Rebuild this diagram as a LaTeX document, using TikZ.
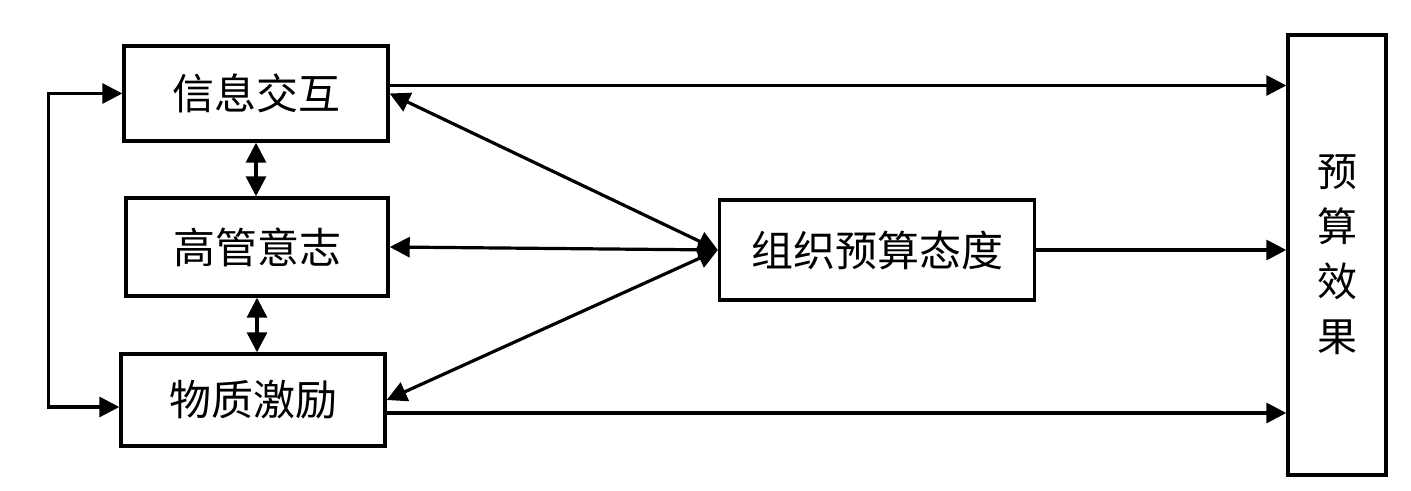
\documentclass[tikz,border=0pt]{standalone}
\usepackage{fontspec}
\usepackage{tikz}
\usetikzlibrary{arrows.meta}
\newfontfamily\cjk{Noto Sans CJK SC}
\tikzset{
    plain-box/.style = {draw=black, fill=white, line width=1.7pt, rectangle, inner sep=0pt, font=\cjk\fontsize{21}{25}\selectfont},
    link/.style = {line width=1.6pt, -{Triangle[length=10pt,width=10pt]}},
    both-link/.style = {line width=1.6pt, {Triangle[length=10pt,width=10pt]}-{Triangle[length=10pt,width=10pt]}},
}
\begin{document}
\begin{tikzpicture}[x=0.5pt,y=0.5pt]
\useasboundingbox (0,0) rectangle (1411,491);
\node [plain-box, minimum width=132pt, minimum height=47.5pt] (info) at (256,397.5) {信息交互};
\node [plain-box, minimum width=131pt, minimum height=49pt] (will) at (257,244) {高管意志};
\node [plain-box, minimum width=132pt, minimum height=46pt] (reward) at (253,91) {物质激励};
\node [plain-box, minimum width=157.5pt, minimum height=50pt] (attitude) at (877,241) {组织预算态度};
\node [plain-box, minimum width=49pt, minimum height=220pt, align=center, font=\cjk\fontsize{20}{27.5}\selectfont] (effect) at (1337,236) {预\\算\\效\\果};
\draw [link] ([yshift=4pt]info.east) -- ([yshift=4pt]info.east -| effect.west);
\draw [link] (attitude.east) -- (attitude.east -| effect.west);
\draw [link] ([yshift=-6.5pt]reward.east) -- ([yshift=-6.5pt]reward.east -| effect.west);
\draw [both-link] (attitude.west) -- (info.east);
\draw [both-link] (attitude.west) -- (will.east);
\draw [both-link] (attitude.west) -- (reward.east);
\draw [both-link] (info.south) -- (info.south |- will.north);
\draw [both-link] (will.south) -- (will.south |- reward.north);
\draw [both-link] (info.west) -- ++(-74,0) |- ([yshift=-3.5pt]reward.west);
\end{tikzpicture}
\end{document}
